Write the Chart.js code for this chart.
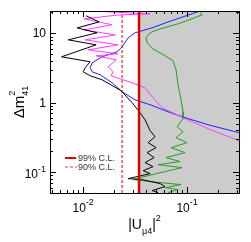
<!DOCTYPE html>
<html>
<head>
<meta charset="utf-8">
<script src="https://cdn.jsdelivr.net/npm/chart.js@4.4.0/dist/chart.umd.min.js"></script>
<style>
html, body { margin: 0; padding: 0; background: #fff; }
#wrap { width: 251px; height: 242px; }
</style>
</head>
<body>
<div id="wrap"><canvas id="Chart"></canvas></div>
<script>
// axis ranges and tick labels
var xRange = [0.0048, 0.316];
var yRange = [0.05, 21];
var xTickValues = [0.01, 0.1];
var xTickLabels = [['10', '-2'], ['10', '-1']];
var yTickValues = [0.1, 1, 10];
var yTickLabels = [['10', '-1'], ['1', ''], ['10', '']];

// confidence level limits on |U_mu4|^2
var cl99U = 0.0345;
var cl90U = 0.0237;

// curves
var blackU  = [0.01069, 0.01425, 0.00876, 0.01364, 0.00720, 0.01333, 0.00620, 0.01167, 0.01045, 0.0100, 0.01167, 0.01523, 0.0232, 0.0296, 0.0353, 0.0394, 0.0441, 0.0492, 0.0422, 0.0503, 0.0412, 0.0482, 0.0394, 0.0471, 0.0378, 0.0441, 0.0271, 0.0369, 0.0550, 0.0614, 0.0461, 0.0526];
var blackDm = [17.9, 14.6, 12.0, 10.2, 8.06, 6.83, 4.59, 3.89, 3.19, 2.79, 2.45, 2.14, 1.49, 1.0, 0.718, 0.569, 0.396, 0.324, 0.266, 0.225, 0.191, 0.162, 0.137, 0.120, 0.105, 0.0951, 0.0806, 0.0780, 0.0684, 0.0618, 0.0542, 0.0507];

var magentaU  = [0.01663, 0.0441, 0.0227, 0.01022, 0.0190, 0.01022, 0.0203, 0.01045, 0.0217, 0.01117, 0.0217, 0.01333, 0.0208, 0.0174, 0.0194, 0.0186, 0.0227, 0.0296, 0.0394, 0.0461, 0.0575, 0.0957, 0.159, 0.316];
var magentaDm = [20.5, 19.1, 18.5, 16.2, 13.3, 11.2, 9.51, 8.06, 6.83, 5.79, 5.07, 4.75, 4.15, 3.30, 2.79, 2.45, 2.21, 1.94, 1.64, 1.22, 0.848, 0.589, 0.423, 0.284];

var blueU  = [0.1276, 0.0656, 0.0461, 0.0316, 0.0271, 0.0237, 0.0212, 0.0152, 0.0122, 0.0117, 0.0122, 0.0146, 0.0190, 0.0237, 0.0316, 0.0441, 0.0656, 0.0957, 0.159, 0.316];
var blueDm = [20.5, 14.6, 12.0, 10.2, 8.61, 6.39, 5.42, 4.59, 3.76, 3.19, 2.79, 2.53, 1.94, 1.44, 1.10, 0.936, 0.742, 0.608, 0.482, 0.370];

var greenU  = [0.1334, 0.1394, 0.1117, 0.0819, 0.0550, 0.0441, 0.0403, 0.0412, 0.0471, 0.0614, 0.0733, 0.0784, 0.0819, 0.0875, 0.0915, 0.0915, 0.0801, 0.0915, 0.0784, 0.100, 0.0702, 0.0957, 0.0628, 0.0856, 0.0526, 0.0895, 0.0614, 0.0353, 0.0303, 0.0441, 0.0875, 0.0614, 0.0819, 0.0656];
var greenDm = [20.5, 18.5, 16.2, 13.7, 11.6, 10.2, 8.61, 7.30, 5.98, 4.75, 4.02, 2.98, 1.82, 1.10, 0.742, 0.589, 0.452, 0.383, 0.313, 0.266, 0.225, 0.191, 0.162, 0.142, 0.128, 0.116, 0.102, 0.0833, 0.0780, 0.0730, 0.0661, 0.0598, 0.0560, 0.0507];

function pts(xs, ys) {
    return xs.map(function(x, i) { return {x: x, y: ys[i]}; });
}

function curve(xs, ys, color) {
    return {
        data: pts(xs, ys),
        showLine: true,
        borderColor: color,
        borderWidth: 1,
        pointRadius: 0,
        tension: 0
    };
}

var FONT = '"Liberation Sans", Arial, sans-serif';

// gray excluded region, frame, inward ticks, labels and legend
var decor = {
    id: 'decor',
    beforeDatasetsDraw: function(chart) {
        var ctx = chart.ctx, a = chart.chartArea;
        var x0 = chart.scales.x.getPixelForValue(cl99U);
        ctx.save();
        ctx.fillStyle = '#cccccc';
        ctx.fillRect(x0, a.top, a.right - x0, a.bottom - a.top);
        ctx.restore();
    },
    afterDraw: function(chart) {
        var ctx = chart.ctx, a = chart.chartArea;
        var xs = chart.scales.x, ys = chart.scales.y;
        ctx.save();
        ctx.strokeStyle = '#000';
        ctx.lineWidth = 1;
        ctx.strokeRect(Math.round(a.left) + 0.5, Math.round(a.top) + 0.5,
                       Math.round(a.right - a.left), Math.round(a.bottom - a.top));

        // minor + major ticks on all four sides
        ctx.beginPath();
        [[xs, true], [ys, false]].forEach(function(s) {
            var sc = s[0], lo = sc.min, hi = sc.max;
            for (var k = Math.floor(Math.log10(lo)); k <= Math.ceil(Math.log10(hi)); k++) {
                for (var m = 1; m < 10; m++) {
                    var v = m * Math.pow(10, k);
                    if (v < lo || v > hi) continue;
                    var len = m === 1 ? 6 : 3;
                    var p = Math.round(sc.getPixelForValue(v)) + 0.5;
                    if (s[1]) {
                        ctx.moveTo(p, a.bottom); ctx.lineTo(p, a.bottom - len);
                        ctx.moveTo(p, a.top); ctx.lineTo(p, a.top + len);
                    } else {
                        ctx.moveTo(a.left, p); ctx.lineTo(a.left + len, p);
                        ctx.moveTo(a.right, p); ctx.lineTo(a.right - len, p);
                    }
                }
            }
        });
        ctx.stroke();

        ctx.fillStyle = '#000';
        ctx.textBaseline = 'alphabetic';
        // x tick labels
        xTickValues.forEach(function(v, i) {
            var p = xs.getPixelForValue(v);
            ctx.font = '12px ' + FONT;
            var w1 = ctx.measureText(xTickLabels[i][0]).width;
            ctx.font = '9px ' + FONT;
            var w2 = ctx.measureText(xTickLabels[i][1]).width;
            var x = p - (w1 + w2) / 2;
            ctx.font = '12px ' + FONT;
            ctx.textAlign = 'left';
            ctx.fillText(xTickLabels[i][0], x, a.bottom + 19);
            ctx.font = '9px ' + FONT;
            ctx.fillText(xTickLabels[i][1], x + w1, a.bottom + 12);
        });
        // y tick labels
        yTickValues.forEach(function(v, i) {
            var p = ys.getPixelForValue(v);
            var right = a.left - 4;
            ctx.font = '9px ' + FONT;
            var w2 = ctx.measureText(yTickLabels[i][1]).width;
            ctx.font = '12px ' + FONT;
            var w1 = ctx.measureText(yTickLabels[i][0]).width;
            ctx.textAlign = 'left';
            var hasSup = yTickLabels[i][1] !== '';
            ctx.fillText(yTickLabels[i][0], right - w1 - w2, p + (hasSup ? 6 : 4));
            if (hasSup) {
                ctx.font = '9px ' + FONT;
                ctx.fillText(yTickLabels[i][1], right - w2, p + 0);
            }
        });

        // x title |U_mu4|^2
        var cx = (a.left + a.right) / 2, by = a.bottom + 36;
        ctx.font = '14px ' + FONT;
        var wa = ctx.measureText('|U').width, wc = ctx.measureText('|').width;
        ctx.font = '9px ' + FONT;
        var wb = ctx.measureText('\u03bc4').width, wd = ctx.measureText('2').width;
        var x = cx - (wa + wb + wc + wd) / 2;
        ctx.font = '14px ' + FONT;
        ctx.fillText('|U', x, by);
        ctx.fillText('|', x + wa + wb, by);
        ctx.font = '9px ' + FONT;
        ctx.fillText('\u03bc4', x + wa, by + 5);
        ctx.fillText('2', x + wa + wb + wc, by - 8);

        // y title Delta m^2_41
        ctx.save();
        ctx.translate(24, (a.top + a.bottom) / 2);
        ctx.rotate(-Math.PI / 2);
        ctx.font = '15px ' + FONT;
        var wm = ctx.measureText('\u0394m').width;
        ctx.font = '9px ' + FONT;
        var ws = ctx.measureText('41').width;
        var tx = -(wm + ws) / 2;
        ctx.font = '15px ' + FONT;
        ctx.fillText('\u0394m', tx, 0);
        ctx.font = '9px ' + FONT;
        ctx.fillText('2', tx + wm, -9);
        ctx.fillText('41', tx + wm, 4);
        ctx.restore();

        // legend
        ctx.lineWidth = 2;
        ctx.strokeStyle = '#e00000';
        ctx.beginPath(); ctx.moveTo(65, 158); ctx.lineTo(76, 158); ctx.stroke();
        ctx.lineWidth = 1;
        ctx.strokeStyle = '#f04040';
        ctx.setLineDash([3, 2]);
        ctx.beginPath(); ctx.moveTo(65, 167); ctx.lineTo(77, 167); ctx.stroke();
        ctx.setLineDash([]);
        ctx.fillStyle = '#333';
        ctx.font = '9px ' + FONT;
        ctx.textAlign = 'left';
        ctx.fillText('99% C.L.', 78, 161);
        ctx.fillText('90% C.L.', 78, 170);
        ctx.restore();
    }
};

var ctx = document.getElementById('Chart');
var graphData = {
    type: 'scatter',
    data: {
        datasets: [
            {
                data: pts([cl99U, cl99U], yRange),
                showLine: true, borderColor: '#e00000', borderWidth: 2.5, pointRadius: 0
            },
            {
                data: pts([cl90U, cl90U], yRange),
                showLine: true, borderColor: '#e00000', borderWidth: 1, borderDash: [3, 2], pointRadius: 0
            },
            curve(blackU, blackDm, '#000000'),
            curve(magentaU, magentaDm, '#ff3cff'),
            curve(blueU, blueDm, '#2020ff'),
            curve(greenU, greenDm, '#20a020')
        ]
    },
    options: {
        responsive: true,
        maintainAspectRatio: false,
        animation: false,
        layout: { padding: { left: 50, top: 11, right: 12, bottom: 49 } },
        plugins: { legend: { display: false }, tooltip: { enabled: false } },
        scales: {
            x: { type: 'logarithmic', min: xRange[0], max: xRange[1], display: false },
            y: { type: 'logarithmic', min: yRange[0], max: yRange[1], display: false }
        }
    },
    plugins: [decor]
};
window.myChart = new Chart(ctx, graphData);
</script>
</body>
</html>
